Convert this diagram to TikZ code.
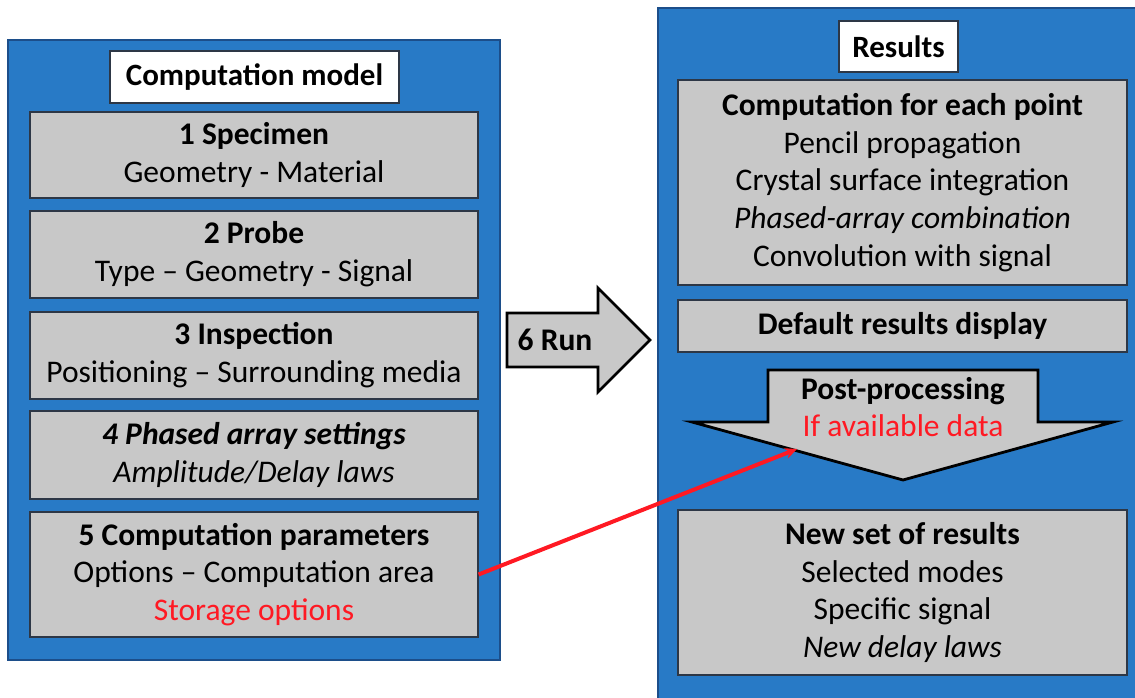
\documentclass[tikz,border=0pt]{standalone}
\usepackage{fontspec}
\setmainfont{Carlito}
\usetikzlibrary{arrows.meta}
\definecolor{panelblue}{RGB}{40,122,198}
\definecolor{paneledge}{RGB}{28,78,138}
\definecolor{boxgray}{RGB}{200,200,200}
\definecolor{boxedge}{RGB}{45,55,70}
\definecolor{alertred}{RGB}{255,25,35}
\begin{document}
\begin{tikzpicture}[x=1pt,y=-1pt,
  panel/.style={draw=paneledge, line width=1.5pt, fill=panelblue, inner sep=0pt},
  gbox/.style={draw=boxedge, line width=1.2pt, fill=boxgray, align=center, inner sep=0pt,
    font=\fontsize{31.5}{37.8}\selectfont},
  tbox/.style={draw=boxedge, line width=1.2pt, fill=white, inner sep=0pt,
    font=\fontsize{31}{35}\selectfont\bfseries},
  shapeline/.style={draw=black, line width=2.8pt, fill=boxgray, line join=miter},
  arrowtext/.style={align=center, inner sep=0pt, font=\fontsize{31.5}{37}\selectfont},
  link/.style={draw=alertred, line width=4pt, -{Stealth[length=12pt,width=11pt]}}
]
\useasboundingbox (0,0) rectangle (1135,698);
\fill[white] (0,0) rectangle (1135,698);

% left column: computation model
\node[panel, minimum width=492pt, minimum height=620pt] (left) at (254,350) {};
\node[tbox, minimum width=289pt, minimum height=52pt] (model) at (254.5,77) {Computation model};
\node[gbox, minimum width=448pt, minimum height=86pt] (b1) at (254,155)
  {\textbf{1 Specimen}\\Geometry - Material};
\node[gbox, minimum width=448pt, minimum height=87pt] (b2) at (254,254.5)
  {\textbf{2 Probe}\\Type -- Geometry - Signal};
\node[gbox, minimum width=448pt, minimum height=87pt] (b3) at (254,355.5)
  {\textbf{3 Inspection}\\Positioning -- Surrounding media};
\node[gbox, minimum width=448pt, minimum height=88pt] (b4) at (254,455)
  {\textbf{\itshape 4 Phased array settings}\\\textit{Amplitude/Delay laws}};
\node[gbox, minimum width=448pt, minimum height=125pt] (b5) at (254,574.5)
  {\textbf{5 Computation parameters}\\Options -- Computation area\\\textcolor{alertred}{Storage options}};

% right column: results
\node[panel, minimum width=482pt, minimum height=702pt] (right) at (899,359) {};
\node[tbox, minimum width=119pt, minimum height=51pt] (results) at (898.5,46.5) {Results};
\node[gbox, minimum width=449pt, minimum height=205pt] (r1) at (902.5,182.5)
  {\textbf{Computation for each point}\\Pencil propagation\\Crystal surface integration\\
   \textit{Phased-array combination}\\Convolution with signal};
\node[gbox, minimum width=449pt, minimum height=52pt] (r2) at (902.5,326)
  {\textbf{Default results display}};
\node[gbox, minimum width=449pt, minimum height=165pt] (r3) at (902.5,592.5)
  {\textbf{New set of results}\\Selected modes\\Specific signal\\\textit{New delay laws}};

% post-processing block arrow
\path[shapeline] (768,370) -- (1038,370) -- (1038,422) -- (1113,422) -- (903,480)
  -- (692,422) -- (768,422) -- cycle;
\node[arrowtext] (post) at (903,407)
  {\textbf{Post-processing}\\\textcolor{alertred}{If available data}};

% run block arrow
\path[shapeline] (507,313) -- (598,313) -- (598,288) -- (650,340) -- (598,392)
  -- (598,367) -- (507,367) -- cycle;
\node[arrowtext, font=\fontsize{31.5}{35}\selectfont\bfseries] (run) at (555,340) {6 Run};

% storage options feed the post-processing step
\coordinate (postin) at (797,449);
\draw[link] (b5.east) -- (postin);
\end{tikzpicture}
\end{document}
